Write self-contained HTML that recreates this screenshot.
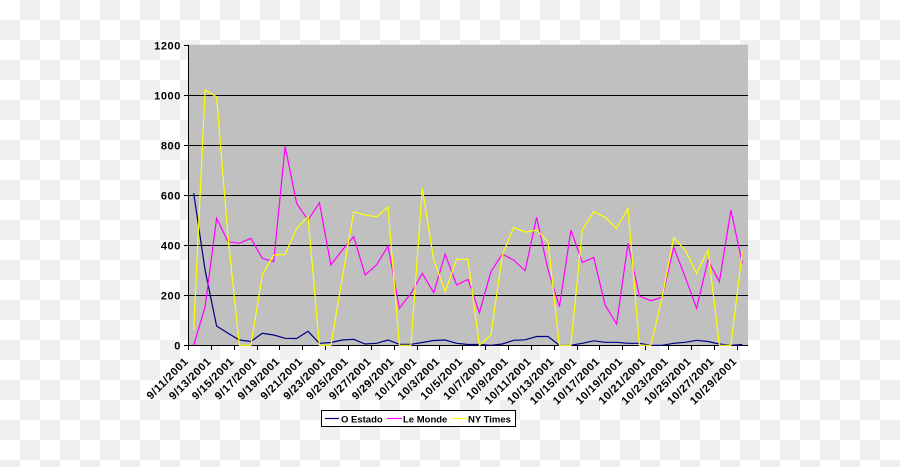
<!DOCTYPE html>
<html><head><meta charset="utf-8"><style>
html,body{margin:0;padding:0}
body{width:900px;height:467px;overflow:hidden;background:repeating-conic-gradient(#f0f0f0 0 25%,#fff 0 50%) 0 0/40px 40px;}
svg{position:absolute;left:0;top:0}
text{font-family:"Liberation Sans",Arial,sans-serif;font-weight:bold;fill:#000}
</style></head><body>
<svg id="s" width="900" height="467" xmlns="http://www.w3.org/2000/svg">
<rect x="188" y="44.7" width="560" height="300.6" fill="#c0c0c0"/>
<g id="grid" stroke="#000" stroke-width="1"></g>
<g id="series" fill="none" stroke-width="1.2"></g>
<g id="labels" font-size="11" letter-spacing="0.6"></g>
<rect x="321.5" y="410.5" width="194" height="16" fill="#fff" stroke="#000"/>
<line x1="325" y1="418.5" x2="339" y2="418.5" stroke="#000080" stroke-width="1.2"/>
<text x="341" y="422.5" font-size="9.5">O Estado</text>
<line x1="387" y1="418.5" x2="402" y2="418.5" stroke="#ff00ff" stroke-width="1.2"/>
<text x="403" y="422.5" font-size="9.5">Le Monde</text>
<line x1="453" y1="418.5" x2="467" y2="418.5" stroke="#ffff00" stroke-width="1.2"/>
<text x="468" y="422.5" font-size="9.5">NY Times</text>
</svg>
<script>
var NS="http://www.w3.org/2000/svg";
function el(p,t,a,txt){var e=document.createElementNS(NS,t);for(var k in a)e.setAttribute(k,a[k]);if(txt)e.textContent=txt;document.getElementById(p).appendChild(e);return e;}
var y0=345.3,sc=300.6/1200,x0=188,cw=560/49;
function Y(v){return y0-v*sc}
for(var v=0;v<=1200;v+=200){var y=Math.round(Y(v))+0.5;
 if(v>0&&v<1200)el("grid","line",{x1:x0,y1:y,x2:748,y2:y});
 el("grid","line",{x1:184,y1:y,x2:x0,y2:y});
 el("labels","text",{x:181,y:y+4,"text-anchor":"end"},String(v));}
el("grid","line",{x1:188.5,y1:44.7,x2:188.5,y2:346});
el("grid","line",{x1:188,y1:345.5,x2:748,y2:345.5});
for(var k=0;k<=24;k++){var x=Math.round(x0+2*cw*k)+0.5;el("grid","line",{x1:x,y1:345,x2:x,y2:350});}
var dates=[];for(var d=11;d<=29;d+=2)dates.push("9/"+d+"/2001");for(var d=1;d<=29;d+=2)dates.push("10/"+d+"/2001");
dates.forEach(function(s,k){var x=x0+2*cw*k+1,y=362;el("labels","text",{x:x,y:y,"text-anchor":"end",transform:"rotate(-45 "+x+" "+y+")"},s);});
var est=[607,300,77,48,21,15,48,41,28,27,56,8,11,21,24,5,8,21,4,4,11,19,21,8,3,3,0,5,20,22,35,35,0,0,8,18,12,12,8,8,0,0,8,12,20,15,5,0,3];
var lm=[0,154,507,414,407,427,347,334,795,567,500,569,321,380,434,281,321,396,148,207,287,210,364,241,263,130,294,364,340,298,511,301,154,460,331,351,161,85,407,197,178,192,391,274,148,340,254,540,327];
var ny=[61,1019,992,434,0,0,281,360,363,467,513,0,0,270,533,520,513,553,0,0,626,343,214,343,343,0,41,360,471,452,460,414,0,0,460,533,511,467,547,0,0,194,431,380,287,380,0,0,374];
function pl(d,c){var p=d.map(function(v,i){return (x0+cw*(i+0.5)).toFixed(1)+","+Y(v).toFixed(1)}).join(" ");el("series","polyline",{points:p,stroke:c});}
pl(est,"#000080");pl(lm,"#ff00ff");pl(ny,"#ffff00");
</script>
</body></html>
